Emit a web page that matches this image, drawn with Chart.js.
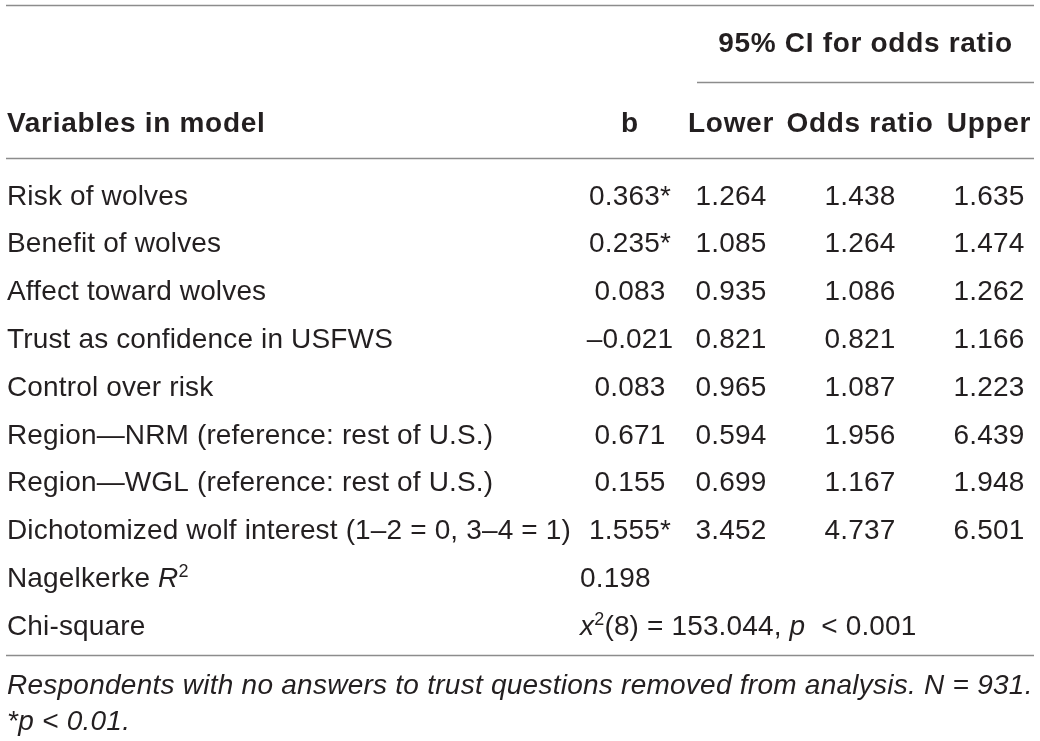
<!DOCTYPE html>
<html>
<head>
<meta charset="utf-8">
<script src="https://cdn.jsdelivr.net/npm/chart.js@4.4.1/dist/chart.umd.min.js"></script>
<style>
  html, body { margin: 0; padding: 0; background: #fff; }
  #wrap { width: 1040px; height: 741px; position: relative; }
</style>
</head>
<body>
<div id="wrap"><canvas id="chart"></canvas></div>
<script>
// --- Table data ---
const variables = [
  "Risk of wolves",
  "Benefit of wolves",
  "Affect toward wolves",
  "Trust as confidence in USFWS",
  "Control over risk",
  "Region\u2014NRM (reference: rest of U.S.)",
  "Region\u2014WGL (reference: rest of U.S.)",
  "Dichotomized wolf interest (1\u20132 = 0, 3\u20134 = 1)"
];
const bValues = [0.363, 0.235, 0.083, -0.021, 0.083, 0.671, 0.155, 1.555];
const significant = [true, true, false, false, false, false, false, true];
const lowerCI = [1.264, 1.085, 0.935, 0.821, 0.965, 0.594, 0.699, 3.452];
const oddsRatio = [1.438, 1.264, 1.086, 0.821, 1.087, 1.956, 1.167, 4.737];
const upperCI = [1.635, 1.474, 1.262, 1.166, 1.223, 6.439, 1.948, 6.501];

const columnHeaders = ["Variables in model", "b", "Lower", "Odds ratio", "Upper"];
const groupHeader = "95% CI for odds ratio";
const nagelkerkeR2 = 0.198;
const chiSquare = 153.044;
const chiDf = 8;
const chiP = "0.001";
const sampleN = 931;
const sigLevel = "0.01";

// --- Layout (x in px units, y in row units) ---
const FAMILY = '"Liberation Sans", Arial, Helvetica, sans-serif';
const SIZE = 28;
const TEXT = "#231f20";
const RULE = "#8c8c8c";
const COL = { label: 7, b: 630, lower: 731, odds: 860, upper: 989, stat: 580, ruleL: 6, ruleR: 1034, ciL: 697 };
const ROW = { top: -3.964, group: -3.197, groupRule: -2.354, head: -1.52, headRule: -0.764,
              bottomRule: 9.634, note1: 10.24, note2: 10.99 };

function fmt(v) {
  return (v < 0 ? "\u2013" : "") + Math.abs(v).toFixed(3);
}

// celdas de texto (runs con estilo)
const plain = s => [{ t: s }];
const labelCells = variables.map(plain).concat([
  [{ t: "Nagelkerke " }, { t: "R", italic: true }, { t: "2", sup: true }],
  plain("Chi-square")
]);
const statCells = [
  plain(nagelkerkeR2.toFixed(3)),
  [{ t: "x", italic: true }, { t: "2", sup: true }, { t: "(" + chiDf + ") = " + chiSquare.toFixed(3) + ", " },
   { t: "p", italic: true }, { t: "  < " + chiP }]
];

function column(values, x, cells, align) {
  return {
    data: values.map((v, i) => ({ x: x, y: i })),
    cells: cells,
    align: align,
    pointRadius: 0
  };
}

const datasets = [
  column(labelCells, COL.label, labelCells, "left"),
  column(bValues, COL.b, bValues.map((v, i) => plain(fmt(v) + (significant[i] ? "*" : ""))), "center"),
  column(lowerCI, COL.lower, lowerCI.map(v => plain(fmt(v))), "center"),
  column(oddsRatio, COL.odds, oddsRatio.map(v => plain(fmt(v))), "center"),
  column(upperCI, COL.upper, upperCI.map(v => plain(fmt(v))), "center"),
  {
    data: statCells.map((c, i) => ({ x: COL.stat, y: variables.length + i })),
    cells: statCells, align: "left", pointRadius: 0
  }
];

function drawRuns(ctx, runs, x, y, align, weight) {
  let total = 0;
  const bold = weight === "bold";
  const parts = runs.map(r => {
    const fs = r.sup ? Math.round(SIZE * 0.64) : SIZE;
    const font = (r.italic ? "italic " : "") + (weight || "normal") + " " + fs + "px " + FAMILY;
    const spacing = bold ? "0.7px" : r.italic ? "0.25px" : "0.15px";
    ctx.font = font;
    ctx.letterSpacing = spacing;
    const w = ctx.measureText(r.t).width;
    total += w;
    return { font, spacing, w, t: r.t, dy: r.sup ? -SIZE * 0.36 : 0 };
  });
  let cx = align === "center" ? x - total / 2 : align === "right" ? x - total : x;
  ctx.textAlign = "left";
  ctx.textBaseline = "alphabetic";
  parts.forEach(p => {
    ctx.font = p.font;
    ctx.letterSpacing = p.spacing;
    ctx.fillText(p.t, cx, y + p.dy);
    cx += p.w;
  });
  ctx.letterSpacing = "0px";
}

const tablePlugin = {
  id: "tablePlugin",
  afterDatasetsDraw(chart) {
    const ctx = chart.ctx;
    const xs = chart.scales.x, ys = chart.scales.y;
    const base = SIZE * 0.36; // centro de mayúsculas -> línea base
    ctx.save();
    ctx.fillStyle = TEXT;

    // celdas
    chart.data.datasets.forEach((ds, di) => {
      const meta = chart.getDatasetMeta(di);
      meta.data.forEach((pt, i) => {
        drawRuns(ctx, ds.cells[i], pt.x, pt.y + base, ds.align);
      });
    });

    // encabezados
    const hy = ys.getPixelForValue(ROW.head) + base;
    drawRuns(ctx, plain(columnHeaders[0]), xs.getPixelForValue(COL.label), hy, "left", "bold");
    [COL.b, COL.lower, COL.odds, COL.upper].forEach((cx, k) => {
      drawRuns(ctx, plain(columnHeaders[k + 1]), xs.getPixelForValue(cx), hy, "center", "bold");
    });
    const gx = (xs.getPixelForValue(COL.ciL) + xs.getPixelForValue(COL.ruleR)) / 2;
    drawRuns(ctx, plain(groupHeader), gx, ys.getPixelForValue(ROW.group) + base, "center", "bold");

    // notas
    drawRuns(ctx, [{ t: "Respondents with no answers to trust questions removed from analysis. N = " + sampleN + ".", italic: true }],
      xs.getPixelForValue(COL.label), ys.getPixelForValue(ROW.note1) + base, "left");
    drawRuns(ctx, [{ t: "*p < " + sigLevel + ".", italic: true }],
      xs.getPixelForValue(COL.label), ys.getPixelForValue(ROW.note2) + base, "left");

    // líneas
    ctx.strokeStyle = RULE;
    ctx.lineWidth = 1.5;
    const rule = (x1, x2, r) => {
      const y = Math.round(ys.getPixelForValue(r)) + 0.5;
      ctx.beginPath();
      ctx.moveTo(xs.getPixelForValue(x1), y);
      ctx.lineTo(xs.getPixelForValue(x2), y);
      ctx.stroke();
    };
    rule(COL.ruleL, COL.ruleR, ROW.top);
    rule(COL.ciL, COL.ruleR, ROW.groupRule);
    rule(COL.ruleL, COL.ruleR, ROW.headRule);
    rule(COL.ruleL, COL.ruleR, ROW.bottomRule);
    ctx.restore();
  }
};

new Chart(document.getElementById("chart"), {
  type: "scatter",
  data: { datasets: datasets },
  options: {
    responsive: true,
    maintainAspectRatio: false,
    animation: false,
    events: [],
    layout: { padding: 0 },
    scales: {
      x: { type: "linear", display: false, min: 0, max: 1040 },
      y: { type: "linear", display: false, reverse: true, min: -4.069, max: 11.433 }
    },
    plugins: { legend: { display: false }, tooltip: { enabled: false } }
  },
  plugins: [tablePlugin]
});
</script>
</body>
</html>
